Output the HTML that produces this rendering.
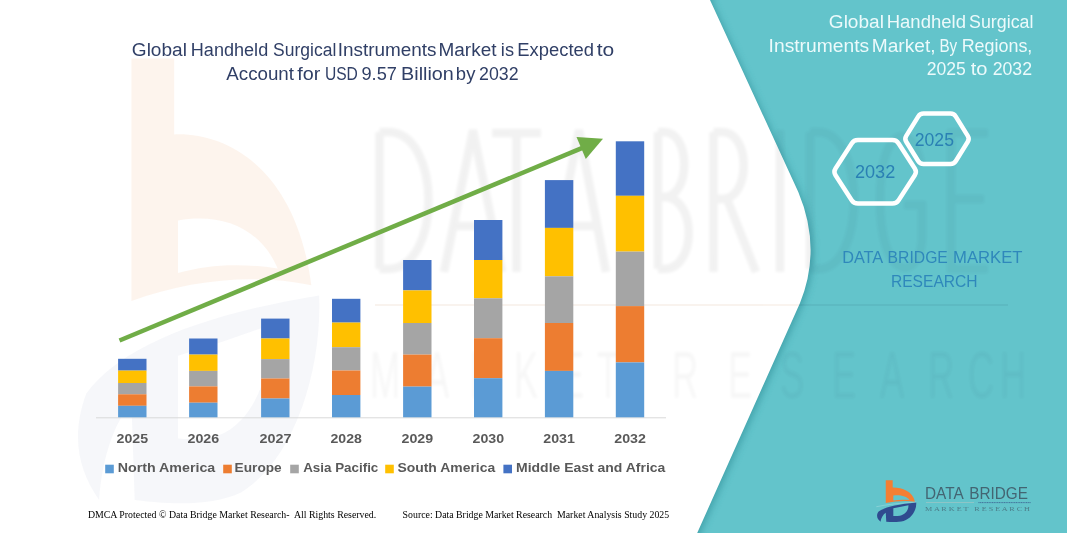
<!DOCTYPE html>
<html><head><meta charset="utf-8">
<style>
html,body{margin:0;padding:0;}
body{width:1067px;height:533px;overflow:hidden;background:#fff;position:relative;font-family:"Liberation Sans",sans-serif;}
svg{position:absolute;left:0;top:0;will-change:transform;}
.t{position:absolute;white-space:nowrap;line-height:1;transform-origin:0 0;}
</style></head><body>
<svg width="1067" height="533" viewBox="0 0 1067 533">
<defs>
<filter id="wb" x="-5%" y="-5%" width="110%" height="110%"><feGaussianBlur stdDeviation="1.6"/></filter>
<filter id="sh" x="-20%" y="-20%" width="140%" height="140%"><feGaussianBlur stdDeviation="3.5"/></filter>
</defs>
<!-- teal background -->
<rect x="0" y="0" width="1067" height="533" fill="#63c4cb"/>
<!-- shadow of white panel -->
<path d="M-20,-20 L710,-20 L710,0 L798.3,192 Q822,248.6 800,303 L697.2,533 L697.2,560 L-20,560 Z" fill="#2f8f98" opacity="0.6" filter="url(#sh)" transform="translate(2.5,2)"/>
<!-- white panel -->
<path d="M-20,-20 L710,-20 L710,0 L798.3,192 Q822,248.6 800,303 L697.2,533 L697.2,560 L-20,560 Z" fill="#ffffff"/>

<!-- watermark big logo -->
<g opacity="1">
<g transform="translate(34.4,-8.7) scale(0.647,1.118)">
<path fill-rule="evenodd" d="M150,60 L216,60 L216,128 C300,126 405,160 428,263 C340,252 240,258 150,277 Z M222,205 C290,198 350,212 376,248 C320,243 270,244 222,252 Z" fill="#ed7d31" opacity="0.085"/>
<path fill-rule="evenodd" d="M100,455 C70,430 55,400 80,360 C130,320 250,290 440,272 C445,340 400,420 320,448 C270,462 200,458 155,455 L150,368 C125,385 105,415 100,455 Z M222,326 C270,318 320,308 366,298 C368,340 340,385 285,397 C262,401 240,401 222,400 Z" fill="#2f4b8f" opacity="0.045"/>
</g>
</g>
<!-- watermark text -->
<clipPath id="cw"><path d="M-20,-20 L710,-20 L710,0 L798.3,192 Q822,248.6 800,303 L697.2,533 L697.2,560 L-20,560 Z"/></clipPath>
<clipPath id="ct"><path clip-rule="evenodd" d="M-50,-50 H1200 V700 H-50 Z M-20,-20 L710,-20 L710,0 L798.3,192 Q822,248.6 800,303 L697.2,533 L697.2,560 L-20,560 Z"/></clipPath>
<g clip-path="url(#cw)">
<g fill="none" stroke="#000" stroke-width="8.5" opacity="0.052" filter="url(#wb)">
<path d="M379.5,132 V269 M379.5,132 H388 C442,132 442,269 388,269 H379.5"/>
<path d="M444,272 L473,130 L502,272 M454,226 H492"/>
<path d="M492,133 H541 M516.5,133 V272"/>
<path d="M551,272 L579,130 L606,272 M560,226 H597"/>
<path d="M658,132 V269 M658,132 H664 C691,132 691,197 664,197 H658 M664,197 C697,197 697,269 664,269 H658"/>
<path d="M713.5,132 V272 M713.5,132 H722 C751,132 751,199 722,199 H713.5 M727,199 L756,272"/>
<path d="M780,130 V272"/>
<path d="M810,132 V269 M810,132 H818 C866,132 866,269 818,269 H810"/>
<path d="M921,165 C914,122 880,122 880,200 C880,282 919,282 922,240 V205 H904"/>
<path d="M988,133 H951 V269 H988 M951,199 H984"/>
</g>
<line x1="375" y1="305" x2="1008" y2="305" stroke="#b06020" stroke-width="2" opacity="0.07"/>
<g font-family="Liberation Sans" font-size="66" fill="#000" opacity="0.03" filter="url(#wb)">
<text transform="scale(0.55,1)" x="672.7 772.7 854.5 934.5 1018.2 1085.5" y="398">MARKET</text>
<text transform="scale(0.55,1)" x="1221.8 1323.6 1418.2 1512.7 1600.0 1687.3 1760.0 1818.2" y="398">RESEARCH</text>
</g>
</g>
<g clip-path="url(#ct)">
<g fill="none" stroke="#003" stroke-width="8.5" opacity="0.035" filter="url(#wb)">
<path d="M379.5,132 V269 M379.5,132 H388 C442,132 442,269 388,269 H379.5"/>
<path d="M444,272 L473,130 L502,272 M454,226 H492"/>
<path d="M492,133 H541 M516.5,133 V272"/>
<path d="M551,272 L579,130 L606,272 M560,226 H597"/>
<path d="M658,132 V269 M658,132 H664 C691,132 691,197 664,197 H658 M664,197 C697,197 697,269 664,269 H658"/>
<path d="M713.5,132 V272 M713.5,132 H722 C751,132 751,199 722,199 H713.5 M727,199 L756,272"/>
<path d="M780,130 V272"/>
<path d="M810,132 V269 M810,132 H818 C866,132 866,269 818,269 H810"/>
<path d="M921,165 C914,122 880,122 880,200 C880,282 919,282 922,240 V205 H904"/>
<path d="M988,133 H951 V269 H988 M951,199 H984"/>
</g>
<line x1="375" y1="305" x2="1008" y2="305" stroke="#003" stroke-width="2" opacity="0.05"/>
<g font-family="Liberation Sans" font-size="66" fill="#003" opacity="0.03" filter="url(#wb)">
<text transform="scale(0.55,1)" x="1221.8 1323.6 1418.2 1512.7 1600.0 1687.3 1760.0 1818.2" y="398">RESEARCH</text>
</g>
</g>
<!-- axis line -->
<line x1="96" y1="417.8" x2="666" y2="417.8" stroke="#d9d9d9" stroke-width="1"/>
<rect x="118.1" y="358.8" width="28.4" height="11.8" fill="#4472c4"/>
<rect x="118.1" y="370.6" width="28.4" height="12.4" fill="#ffc000"/>
<rect x="118.1" y="383.0" width="28.4" height="11.3" fill="#a5a5a5"/>
<rect x="118.1" y="394.3" width="28.4" height="11.5" fill="#ed7d31"/>
<rect x="118.1" y="405.8" width="28.4" height="11.5" fill="#5b9bd5"/>
<rect x="189.1" y="338.5" width="28.4" height="16.1" fill="#4472c4"/>
<rect x="189.1" y="354.6" width="28.4" height="16.3" fill="#ffc000"/>
<rect x="189.1" y="370.9" width="28.4" height="15.5" fill="#a5a5a5"/>
<rect x="189.1" y="386.4" width="28.4" height="16.3" fill="#ed7d31"/>
<rect x="189.1" y="402.7" width="28.4" height="14.6" fill="#5b9bd5"/>
<rect x="261.1" y="318.6" width="28.4" height="19.9" fill="#4472c4"/>
<rect x="261.1" y="338.5" width="28.4" height="20.6" fill="#ffc000"/>
<rect x="261.1" y="359.1" width="28.4" height="19.4" fill="#a5a5a5"/>
<rect x="261.1" y="378.5" width="28.4" height="20.0" fill="#ed7d31"/>
<rect x="261.1" y="398.5" width="28.4" height="18.8" fill="#5b9bd5"/>
<rect x="332.0" y="298.8" width="28.4" height="23.8" fill="#4472c4"/>
<rect x="332.0" y="322.6" width="28.4" height="24.6" fill="#ffc000"/>
<rect x="332.0" y="347.2" width="28.4" height="23.3" fill="#a5a5a5"/>
<rect x="332.0" y="370.5" width="28.4" height="24.5" fill="#ed7d31"/>
<rect x="332.0" y="395.0" width="28.4" height="22.3" fill="#5b9bd5"/>
<rect x="403.1" y="260.0" width="28.4" height="30.4" fill="#4472c4"/>
<rect x="403.1" y="290.4" width="28.4" height="32.6" fill="#ffc000"/>
<rect x="403.1" y="323.0" width="28.4" height="31.6" fill="#a5a5a5"/>
<rect x="403.1" y="354.6" width="28.4" height="32.0" fill="#ed7d31"/>
<rect x="403.1" y="386.6" width="28.4" height="30.7" fill="#5b9bd5"/>
<rect x="474.0" y="220.0" width="28.4" height="40.0" fill="#4472c4"/>
<rect x="474.0" y="260.0" width="28.4" height="38.3" fill="#ffc000"/>
<rect x="474.0" y="298.3" width="28.4" height="39.9" fill="#a5a5a5"/>
<rect x="474.0" y="338.2" width="28.4" height="40.0" fill="#ed7d31"/>
<rect x="474.0" y="378.2" width="28.4" height="39.1" fill="#5b9bd5"/>
<rect x="544.9" y="180.1" width="28.4" height="47.8" fill="#4472c4"/>
<rect x="544.9" y="227.9" width="28.4" height="48.4" fill="#ffc000"/>
<rect x="544.9" y="276.3" width="28.4" height="46.7" fill="#a5a5a5"/>
<rect x="544.9" y="323.0" width="28.4" height="47.9" fill="#ed7d31"/>
<rect x="544.9" y="370.9" width="28.4" height="46.4" fill="#5b9bd5"/>
<rect x="615.8" y="141.3" width="28.4" height="54.5" fill="#4472c4"/>
<rect x="615.8" y="195.8" width="28.4" height="55.8" fill="#ffc000"/>
<rect x="615.8" y="251.6" width="28.4" height="54.5" fill="#a5a5a5"/>
<rect x="615.8" y="306.1" width="28.4" height="56.3" fill="#ed7d31"/>
<rect x="615.8" y="362.4" width="28.4" height="54.9" fill="#5b9bd5"/>
<!-- arrow -->
<line x1="119.5" y1="340.5" x2="583" y2="147.6" stroke="#70ad47" stroke-width="4.5"/>
<polygon points="603,138.7 576.5,137 585.8,159" fill="#70ad47"/>
<!-- hexagons -->
<path d="M835.52,175.16 Q833.35,171.80 835.52,168.44 L851.68,143.41 Q853.85,140.05 857.85,140.05 L892.45,140.05 Q896.45,140.05 898.62,143.41 L914.78,168.44 Q916.95,171.80 914.78,175.16 L898.62,200.19 Q896.45,203.55 892.45,203.55 L857.85,203.55 Q853.85,203.55 851.68,200.19 Z" fill="none" stroke="#ffffff" stroke-width="4.5" stroke-linejoin="round"/>
<path d="M906.24,141.78 Q904.40,138.80 906.24,135.82 L918.16,116.58 Q920.00,113.60 923.50,113.60 L950.50,113.60 Q954.00,113.60 955.84,116.58 L967.76,135.82 Q969.60,138.80 967.76,141.78 L955.84,161.02 Q954.00,164.00 950.50,164.00 L923.50,164.00 Q920.00,164.00 918.16,161.02 Z" fill="none" stroke="#ffffff" stroke-width="4.5" stroke-linejoin="round"/>
<!-- legend squares -->
<rect x="105.2" y="464.7" width="8.6" height="8.6" fill="#5b9bd5"/>
<rect x="223.2" y="464.7" width="8.6" height="8.6" fill="#ed7d31"/>
<rect x="290.2" y="464.7" width="8.6" height="8.6" fill="#a5a5a5"/>
<rect x="385.2" y="464.7" width="8.6" height="8.6" fill="#ffc000"/>
<rect x="503.4" y="464.7" width="8.6" height="8.6" fill="#4472c4"/>

<!-- small logo -->
<g transform="translate(870,474) scale(0.10504)">
<path fill-rule="evenodd" d="M150,60 L216,60 L216,128 C300,126 405,160 428,263 C340,252 240,258 150,277 Z M222,205 C290,198 350,212 376,248 C320,243 270,244 222,252 Z" fill="#f47f33"/>
<path fill-rule="evenodd" d="M100,455 C70,430 55,400 80,360 C130,320 250,290 440,272 C445,340 400,420 320,448 C270,462 200,458 155,455 L150,368 C125,385 105,415 100,455 Z M222,326 C270,318 320,308 366,298 C368,340 340,385 285,397 C262,401 240,401 222,400 Z" fill="#2f4b8f"/>
</g>
<path d="M60,312 C160,290 300,275 440,266" transform="translate(870,474) scale(0.10504)" fill="none" stroke="#ffffff" stroke-opacity="0.22" stroke-width="10"/>
<line x1="978.4" y1="502.6" x2="1031" y2="502.6" stroke="#3f6a96" stroke-width="0.9" stroke-dasharray="1.2 0.5"/>
<line x1="926" y1="502.6" x2="974" y2="502.6" stroke="#e8c8c0" stroke-width="0.6" opacity="0.6"/>
<text x="131.82" y="55.70" textLength="55.07" lengthAdjust="spacingAndGlyphs" xml:space="preserve" font-family="Liberation Sans" font-size="17.6" font-weight="400" fill="#303f66" opacity="1">Global</text>
<text x="190.82" y="55.70" textLength="77.38" lengthAdjust="spacingAndGlyphs" xml:space="preserve" font-family="Liberation Sans" font-size="17.6" font-weight="400" fill="#303f66" opacity="1">Handheld</text>
<text x="273.07" y="55.70" textLength="63.23" lengthAdjust="spacingAndGlyphs" xml:space="preserve" font-family="Liberation Sans" font-size="17.6" font-weight="400" fill="#303f66" opacity="1">Surgical</text>
<text x="337.71" y="55.70" textLength="98.81" lengthAdjust="spacingAndGlyphs" xml:space="preserve" font-family="Liberation Sans" font-size="17.6" font-weight="400" fill="#303f66" opacity="1">Instruments</text>
<text x="438.56" y="55.70" textLength="57.91" lengthAdjust="spacingAndGlyphs" xml:space="preserve" font-family="Liberation Sans" font-size="17.6" font-weight="400" fill="#303f66" opacity="1">Market</text>
<text x="500.85" y="55.70" textLength="13.18" lengthAdjust="spacingAndGlyphs" xml:space="preserve" font-family="Liberation Sans" font-size="17.6" font-weight="400" fill="#303f66" opacity="1">is</text>
<text x="517.30" y="55.70" textLength="76.71" lengthAdjust="spacingAndGlyphs" xml:space="preserve" font-family="Liberation Sans" font-size="17.6" font-weight="400" fill="#303f66" opacity="1">Expected</text>
<text x="596.72" y="55.70" textLength="17.52" lengthAdjust="spacingAndGlyphs" xml:space="preserve" font-family="Liberation Sans" font-size="17.6" font-weight="400" fill="#303f66" opacity="1">to</text>
<text x="226.29" y="79.90" textLength="67.72" lengthAdjust="spacingAndGlyphs" xml:space="preserve" font-family="Liberation Sans" font-size="17.6" font-weight="400" fill="#303f66" opacity="1">Account</text>
<text x="297.38" y="79.90" textLength="23.09" lengthAdjust="spacingAndGlyphs" xml:space="preserve" font-family="Liberation Sans" font-size="17.6" font-weight="400" fill="#303f66" opacity="1">for</text>
<text x="324.91" y="79.90" textLength="32.98" lengthAdjust="spacingAndGlyphs" xml:space="preserve" font-family="Liberation Sans" font-size="17.6" font-weight="400" fill="#303f66" opacity="1">USD</text>
<text x="361.47" y="79.90" textLength="35.47" lengthAdjust="spacingAndGlyphs" xml:space="preserve" font-family="Liberation Sans" font-size="17.6" font-weight="400" fill="#303f66" opacity="1">9.57</text>
<text x="401.10" y="79.90" textLength="52.78" lengthAdjust="spacingAndGlyphs" xml:space="preserve" font-family="Liberation Sans" font-size="17.6" font-weight="400" fill="#303f66" opacity="1">Billion</text>
<text x="455.89" y="79.90" textLength="19.52" lengthAdjust="spacingAndGlyphs" xml:space="preserve" font-family="Liberation Sans" font-size="17.6" font-weight="400" fill="#303f66" opacity="1">by</text>
<text x="479.14" y="79.90" textLength="39.44" lengthAdjust="spacingAndGlyphs" xml:space="preserve" font-family="Liberation Sans" font-size="17.6" font-weight="400" fill="#303f66" opacity="1">2032</text>
<text x="828.82" y="27.60" textLength="55.07" lengthAdjust="spacingAndGlyphs" xml:space="preserve" font-family="Liberation Sans" font-size="17.6" font-weight="400" fill="#ecfafb" opacity="1">Global</text>
<text x="886.73" y="27.60" textLength="79.23" lengthAdjust="spacingAndGlyphs" xml:space="preserve" font-family="Liberation Sans" font-size="17.6" font-weight="400" fill="#ecfafb" opacity="1">Handheld</text>
<text x="969.08" y="27.60" textLength="64.32" lengthAdjust="spacingAndGlyphs" xml:space="preserve" font-family="Liberation Sans" font-size="17.6" font-weight="400" fill="#ecfafb" opacity="1">Surgical</text>
<text x="768.60" y="51.50" textLength="100.55" lengthAdjust="spacingAndGlyphs" xml:space="preserve" font-family="Liberation Sans" font-size="17.6" font-weight="400" fill="#ecfafb" opacity="1">Instruments</text>
<text x="871.80" y="51.50" textLength="63.73" lengthAdjust="spacingAndGlyphs" xml:space="preserve" font-family="Liberation Sans" font-size="17.6" font-weight="400" fill="#ecfafb" opacity="1">Market,</text>
<text x="939.40" y="51.50" textLength="17.80" lengthAdjust="spacingAndGlyphs" xml:space="preserve" font-family="Liberation Sans" font-size="17.6" font-weight="400" fill="#ecfafb" opacity="1">By</text>
<text x="961.65" y="51.50" textLength="70.71" lengthAdjust="spacingAndGlyphs" xml:space="preserve" font-family="Liberation Sans" font-size="17.6" font-weight="400" fill="#ecfafb" opacity="1">Regions,</text>
<text x="926.71" y="75.40" textLength="39.11" lengthAdjust="spacingAndGlyphs" xml:space="preserve" font-family="Liberation Sans" font-size="17.6" font-weight="400" fill="#ecfafb" opacity="1">2025</text>
<text x="970.78" y="75.40" textLength="16.76" lengthAdjust="spacingAndGlyphs" xml:space="preserve" font-family="Liberation Sans" font-size="17.6" font-weight="400" fill="#ecfafb" opacity="1">to</text>
<text x="992.66" y="75.40" textLength="39.40" lengthAdjust="spacingAndGlyphs" xml:space="preserve" font-family="Liberation Sans" font-size="17.6" font-weight="400" fill="#ecfafb" opacity="1">2032</text>
<text x="854.94" y="178.10" textLength="40.26" lengthAdjust="spacingAndGlyphs" xml:space="preserve" font-family="Liberation Sans" font-size="18.8" font-weight="400" fill="#2a80b4" opacity="1">2032</text>
<text x="914.75" y="145.80" textLength="39.20" lengthAdjust="spacingAndGlyphs" xml:space="preserve" font-family="Liberation Sans" font-size="18.8" font-weight="400" fill="#2a80b4" opacity="1">2025</text>
<text x="842.22" y="262.70" textLength="41.01" lengthAdjust="spacingAndGlyphs" xml:space="preserve" font-family="Liberation Sans" font-size="17.0" font-weight="400" fill="#2f88bb" opacity="1">DATA</text>
<text x="887.62" y="262.70" textLength="60.25" lengthAdjust="spacingAndGlyphs" xml:space="preserve" font-family="Liberation Sans" font-size="17.0" font-weight="400" fill="#2f88bb" opacity="1">BRIDGE</text>
<text x="953.04" y="262.70" textLength="69.49" lengthAdjust="spacingAndGlyphs" xml:space="preserve" font-family="Liberation Sans" font-size="17.0" font-weight="400" fill="#2f88bb" opacity="1">MARKET</text>
<text x="890.88" y="286.70" textLength="86.75" lengthAdjust="spacingAndGlyphs" xml:space="preserve" font-family="Liberation Sans" font-size="17.0" font-weight="400" fill="#2f88bb" opacity="1">RESEARCH</text>
<text x="87.90" y="518.40" textLength="288.35" lengthAdjust="spacingAndGlyphs" xml:space="preserve" font-family="Liberation Serif" font-size="10" font-weight="400" fill="#000000" opacity="1">DMCA Protected © Data Bridge Market Research-  All Rights Reserved.</text>
<text x="402.60" y="518.40" textLength="266.60" lengthAdjust="spacingAndGlyphs" xml:space="preserve" font-family="Liberation Serif" font-size="10" font-weight="400" fill="#000000" opacity="1">Source: Data Bridge Market Research  Market Analysis Study 2025</text>
<text x="117.70" y="472.40" textLength="97.55" lengthAdjust="spacingAndGlyphs" xml:space="preserve" font-family="Liberation Sans" font-size="13.4" font-weight="700" fill="#595959" opacity="1">North America</text>
<text x="234.64" y="472.40" textLength="47.09" lengthAdjust="spacingAndGlyphs" xml:space="preserve" font-family="Liberation Sans" font-size="13.4" font-weight="700" fill="#595959" opacity="1">Europe</text>
<text x="303.15" y="472.40" textLength="75.18" lengthAdjust="spacingAndGlyphs" xml:space="preserve" font-family="Liberation Sans" font-size="13.4" font-weight="700" fill="#595959" opacity="1">Asia Pacific</text>
<text x="397.41" y="472.40" textLength="97.82" lengthAdjust="spacingAndGlyphs" xml:space="preserve" font-family="Liberation Sans" font-size="13.4" font-weight="700" fill="#595959" opacity="1">South America</text>
<text x="516.05" y="472.40" textLength="149.29" lengthAdjust="spacingAndGlyphs" xml:space="preserve" font-family="Liberation Sans" font-size="13.4" font-weight="700" fill="#595959" opacity="1">Middle East and Africa</text>
<text x="925.00" y="499.30" textLength="38.65" lengthAdjust="spacingAndGlyphs" xml:space="preserve" font-family="Liberation Sans" font-size="17.2" font-weight="400" fill="#42606e" opacity="0.95">DATA</text>
<text x="969.28" y="499.30" textLength="58.71" lengthAdjust="spacingAndGlyphs" xml:space="preserve" font-family="Liberation Sans" font-size="17.2" font-weight="400" fill="#42606e" opacity="0.95">BRIDGE</text>
<text x="925.13" y="511.40" textLength="104.83" lengthAdjust="spacingAndGlyphs" xml:space="preserve" font-family="Liberation Serif" font-size="6.2" font-weight="400" fill="#42606e" opacity="0.7">M A R K E T   R E S E A R C H</text>
<text x="116.51" y="442.60" textLength="31.60" lengthAdjust="spacingAndGlyphs" xml:space="preserve" font-family="Liberation Sans" font-size="13.4" font-weight="700" fill="#595959" opacity="1">2025</text>
<text x="187.51" y="442.60" textLength="31.73" lengthAdjust="spacingAndGlyphs" xml:space="preserve" font-family="Liberation Sans" font-size="13.4" font-weight="700" fill="#595959" opacity="1">2026</text>
<text x="259.51" y="442.60" textLength="31.88" lengthAdjust="spacingAndGlyphs" xml:space="preserve" font-family="Liberation Sans" font-size="13.4" font-weight="700" fill="#595959" opacity="1">2027</text>
<text x="330.52" y="442.60" textLength="31.41" lengthAdjust="spacingAndGlyphs" xml:space="preserve" font-family="Liberation Sans" font-size="13.4" font-weight="700" fill="#595959" opacity="1">2028</text>
<text x="401.51" y="442.60" textLength="31.70" lengthAdjust="spacingAndGlyphs" xml:space="preserve" font-family="Liberation Sans" font-size="13.4" font-weight="700" fill="#595959" opacity="1">2029</text>
<text x="472.52" y="442.60" textLength="31.56" lengthAdjust="spacingAndGlyphs" xml:space="preserve" font-family="Liberation Sans" font-size="13.4" font-weight="700" fill="#595959" opacity="1">2030</text>
<text x="543.27" y="442.60" textLength="31.62" lengthAdjust="spacingAndGlyphs" xml:space="preserve" font-family="Liberation Sans" font-size="13.4" font-weight="700" fill="#595959" opacity="1">2031</text>
<text x="614.25" y="442.60" textLength="31.69" lengthAdjust="spacingAndGlyphs" xml:space="preserve" font-family="Liberation Sans" font-size="13.4" font-weight="700" fill="#595959" opacity="1">2032</text>
</svg>

</body></html>
